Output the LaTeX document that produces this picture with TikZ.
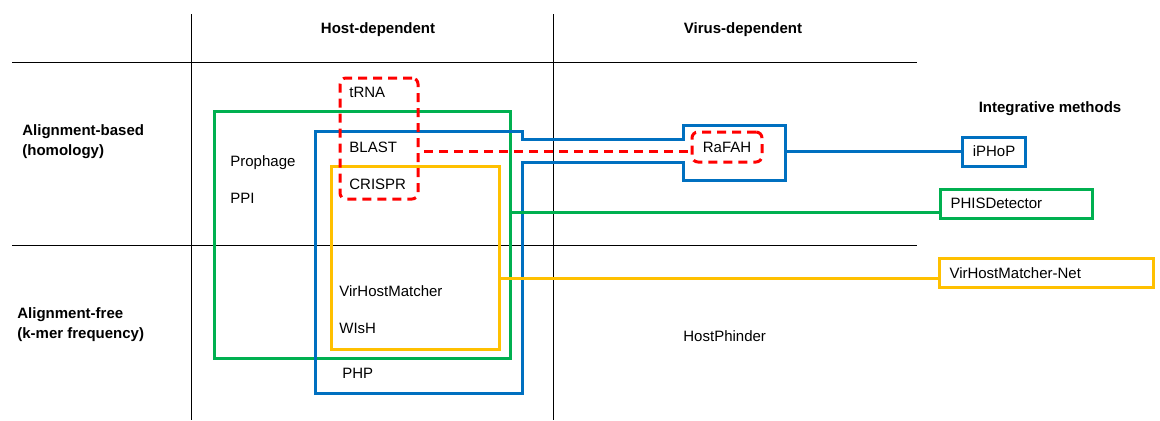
\documentclass[tikz,border=0pt]{standalone}
\usepackage{fontspec}
\setmainfont{Liberation Sans}
\usepackage[HTML]{xcolor}
\usetikzlibrary{positioning, fit}
\definecolor{tblue}{HTML}{0070C0}
\definecolor{tgreen}{HTML}{00B050}
\definecolor{tyellow}{HTML}{FFC000}
\definecolor{tred}{HTML}{FF0000}

\begin{document}
\begin{tikzpicture}[x=0.5pt,y=-0.5pt,font=\fontsize{7.5}{9.7}\selectfont,
  grid/.style={black,line width=0.5pt},
  group/.style={line width=1.5pt,inner sep=0pt},
  dashred/.style={tred,line width=1.5pt,dash pattern=on 4.5pt off 3pt},
  tool/.style={anchor=base west,inner sep=0pt},
  head/.style={anchor=base,inner sep=0pt,font=\fontsize{7.5}{9.7}\selectfont\bfseries},
  method/.style={draw,line width=1.5pt,anchor=west,inner xsep=5pt,inner ysep=0pt,minimum height=14.5pt}]
\useasboundingbox (0,0) rectangle (1160,420);

\draw[grid] (191,14) -- (191,420);
\draw[grid] (553,14) -- (553,420);
\draw[grid] (12,62) -- (917,62);
\draw[grid] (12,245) -- (917,245);

\node[head] (host) at (378,33) {Host-dependent};
\node[head] (virus) at (743,33) {Virus-dependent};
\node[head] (integ) at (1050,112) {Integrative methods};
\node[head,anchor=base west,align=left] (homol) at (22,155) {Alignment-based\\(homology)};
\node[head,anchor=base west,align=left] (kmer) at (17,338) {Alignment-free\\(k-mer frequency)};

% host-dependent groups
\node[group,draw=tgreen,fit={(214,111) (510,358)}] (phisgrp) {};
\draw[group,tblue] (315,131) -| (522,139) -| (683,125) -| (785,180) -| (683,162) -| (522,393) -| (315,131) -- cycle;
\node[group,draw=tyellow,fit={(331,166) (499,349)}] (vhmgrp) {};
\node[dashred,draw,inner sep=0pt,rounded corners=3pt,fit={(340,78) (418,199)}] (trna) {};
\node[dashred,draw,inner sep=0pt,rounded corners=3pt,minimum width=35pt,minimum height=15pt,text=black] (rafah) at (727,147) {RaFAH};

\node[tool] at (349,97) {tRNA};
\node[tool] at (349,152) {BLAST};
\node[tool] at (349,189) {CRISPR};
\node[tool] at (230,166) {Prophage};
\node[tool] at (230,203) {PPI};
\node[tool] at (339,296) {VirHostMatcher};
\node[tool] at (339,333) {WIsH};
\node[tool] at (342,378) {PHP};
\node[tool] at (683,341) {HostPhinder};

% integrative methods
\node[method,draw=tblue,text width=21.5pt,align=center] (iphop) at (961,151.5) {iPHoP};
\node[method,draw=tgreen,text width=66pt,align=left] (phis) at (939,203.5) {PHISDetector};
\node[method,draw=tyellow,text width=97pt,align=left] (vhmnet) at (938,273) {VirHostMatcher-Net};

\coordinate (blueout) at (785,151.5);
\coordinate (greenout) at (510,212);
\coordinate (yellowout) at (499,278);
\coordinate (redout) at (418,151);
\draw[group,tblue] (blueout) -- (blueout -| iphop.west);
\draw[group,tgreen] (greenout) -- (greenout -| phis.west);
\draw[group,tyellow] (yellowout) -- (yellowout -| vhmnet.west);
\draw[dashred,dash phase=4.5pt] (redout) -- (redout -| rafah.west);
\end{tikzpicture}
\end{document}
